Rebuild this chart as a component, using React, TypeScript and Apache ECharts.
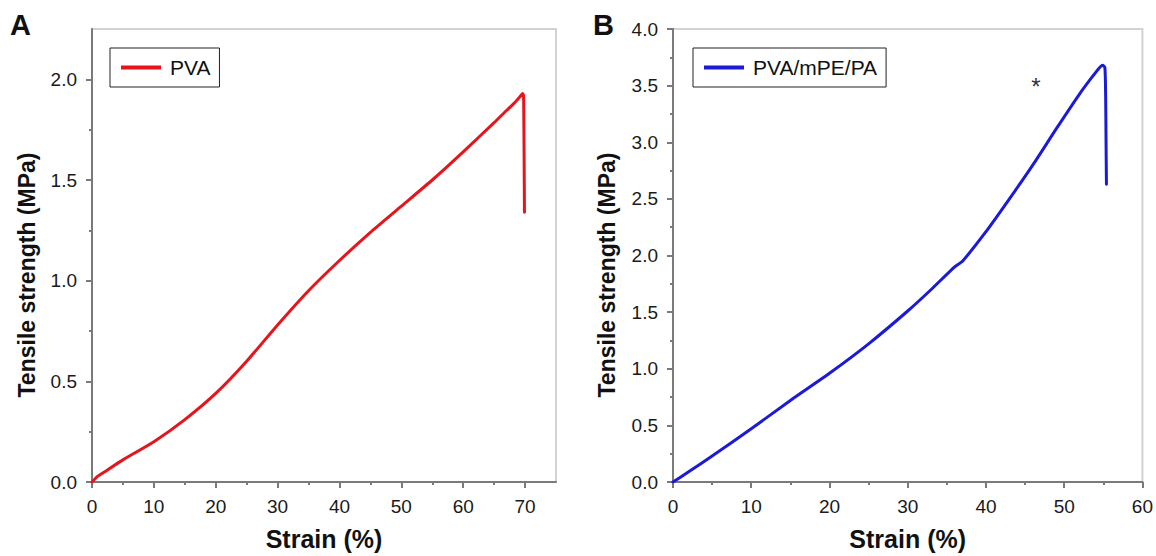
import React, { useEffect, useRef } from "react";
import * as echarts from "echarts";

// Panel A: PVA stress–strain curve
const pvaStrain = [0, 1, 2, 5, 10, 15, 20, 25, 30, 35, 40, 45, 50, 55, 60, 65, 67, 68.5, 69.2, 69.6, 69.75, 69.8, 69.85, 69.9];
const pvaStress = [0, 0.03, 0.05, 0.11, 0.2, 0.31, 0.44, 0.6, 0.78, 0.95, 1.1, 1.24, 1.37, 1.5, 1.64, 1.785, 1.845, 1.89, 1.915, 1.93, 1.92, 1.8, 1.6, 1.34];

// Panel B: PVA/mPE/PA stress–strain curve
const blendStrain = [0, 2, 5, 10, 15, 20, 25, 30, 33, 36, 37, 40, 43, 46, 49, 52, 53.5, 54.4, 54.9, 55.2, 55.3, 55.35, 55.4];
const blendStress = [0, 0.09, 0.23, 0.47, 0.72, 0.96, 1.22, 1.51, 1.7, 1.9, 1.95, 2.21, 2.5, 2.8, 3.12, 3.43, 3.57, 3.65, 3.68, 3.66, 3.4, 3.0, 2.63];

const aXMajor = [0, 10, 20, 30, 40, 50, 60, 70];
const aXMinor = [5, 15, 25, 35, 45, 55, 65];
const aYMajor = [0, 0.5, 1.0, 1.5, 2.0];
const aYMinor = [0.25, 0.75, 1.25, 1.75];
const bXMajor = [0, 10, 20, 30, 40, 50, 60];
const bXMinor = [5, 15, 25, 35, 45, 55];
const bYMajor = [0, 0.5, 1.0, 1.5, 2.0, 2.5, 3.0, 3.5, 4.0];
const bYMinor = [0.25, 0.75, 1.25, 1.75, 2.25, 2.75, 3.25, 3.75];

const FONT = 'Arial, "Liberation Sans", sans-serif';
const AXIS_COLOR = "#7a7a7a";
const LABEL_COLOR = "#1a1a1a";

function majorAxis(kind: "x" | "y", grid: number, min: number, max: number, ticks: number[], decimals: number, name?: string) {
  return {
    type: "value",
    gridIndex: grid,
    position: kind === "x" ? "bottom" : "left",
    min,
    max,
    name: name ?? "",
    nameLocation: "middle",
    nameGap: 44,
    nameTextStyle: { fontFamily: FONT, fontWeight: "bold", fontSize: 25, color: "#111" },
    axisLine: { show: true, lineStyle: { color: AXIS_COLOR, width: 2 } },
    axisTick: { show: true, inside: false, length: 6, customValues: ticks, lineStyle: { color: AXIS_COLOR, width: 2 } },
    axisLabel: {
      show: true,
      customValues: ticks,
      margin: 15,
      fontFamily: FONT,
      fontSize: 19,
      color: LABEL_COLOR,
      formatter: (v: number) => v.toFixed(decimals),
    },
    splitLine: { show: false },
  };
}

function minorAxis(kind: "x" | "y", grid: number, min: number, max: number, ticks: number[]) {
  return {
    type: "value",
    gridIndex: grid,
    position: kind === "x" ? "bottom" : "left",
    min,
    max,
    axisLine: { show: false },
    axisTick: { show: true, inside: false, length: 3, customValues: ticks, lineStyle: { color: AXIS_COLOR, width: 2 } },
    axisLabel: { show: false },
    splitLine: { show: false },
  };
}

export default function App() {
  const ref = useRef<HTMLDivElement>(null);
  useEffect(() => {
    if (!ref.current) return;
    const chart = echarts.init(ref.current, undefined, { renderer: "svg" });
    const pvaData = pvaStrain.map((x, i) => [x, pvaStress[i]]);
    const blendData = blendStrain.map((x, i) => [x, blendStress[i]]);
    const legendBase = {
      orient: "horizontal",
      top: 48,
      borderColor: "#222",
      borderWidth: 1,
      padding: [9, 9, 9, 11],
      itemWidth: 40,
      itemHeight: 4,
      itemGap: 10,
      icon: "rect",
      textStyle: { fontFamily: FONT, fontSize: 21, color: "#111", lineHeight: 21, padding: [0, 0, 0, 4] },
    };
    chart.setOption({
      animation: false,
      backgroundColor: "#ffffff",
      grid: [
        { left: 92, top: 29, width: 464, height: 455, show: true, borderColor: "#d2d2d2", borderWidth: 2, backgroundColor: "transparent" },
        { left: 673, top: 29, width: 470, height: 455, show: true, borderColor: "#d2d2d2", borderWidth: 2, backgroundColor: "transparent" },
      ],
      xAxis: [
        majorAxis("x", 0, 0, 75, aXMajor, 0, "Strain (%)"),
        minorAxis("x", 0, 0, 75, aXMinor),
        majorAxis("x", 1, 0, 60, bXMajor, 0, "Strain (%)"),
        minorAxis("x", 1, 0, 60, bXMinor),
      ],
      yAxis: [
        majorAxis("y", 0, 0, 2.25, aYMajor, 1),
        minorAxis("y", 0, 0, 2.25, aYMinor),
        majorAxis("y", 1, 0, 4, bYMajor, 1),
        minorAxis("y", 1, 0, 4, bYMinor),
      ],
      legend: [
        { ...legendBase, left: 110, data: ["PVA"] },
        { ...legendBase, left: 693, data: ["PVA/mPE/PA"] },
      ],
      series: [
        {
          name: "PVA",
          type: "line",
          xAxisIndex: 0,
          yAxisIndex: 0,
          data: pvaData,
          showSymbol: false,
          symbol: "none",
          smooth: 0.2,
          color: "#e6141b",
          lineStyle: { width: 3, color: "#e6141b", join: "round", cap: "round" },
        },
        {
          name: "PVA/mPE/PA",
          type: "line",
          xAxisIndex: 2,
          yAxisIndex: 2,
          data: blendData,
          showSymbol: false,
          symbol: "none",
          smooth: 0.2,
          color: "#1a1ad8",
          lineStyle: { width: 3, color: "#1a1ad8", join: "round", cap: "round" },
        },
      ],
      graphic: [
        { type: "text", left: 10, top: 10, style: { text: "A", fontFamily: FONT, fontWeight: "bold", fontSize: 29, fill: "#111" } },
        { type: "text", left: 593, top: 10, style: { text: "B", fontFamily: FONT, fontWeight: "bold", fontSize: 29, fill: "#111" } },
        {
          type: "text",
          x: 27,
          y: 275,
          rotation: Math.PI / 2,
          style: { text: "Tensile strength (MPa)", fontFamily: FONT, fontWeight: "bold", fontSize: 23, fill: "#111", align: "center", verticalAlign: "middle" },
        },
        {
          type: "text",
          x: 607,
          y: 275,
          rotation: Math.PI / 2,
          style: { text: "Tensile strength (MPa)", fontFamily: FONT, fontWeight: "bold", fontSize: 23, fill: "#111", align: "center", verticalAlign: "middle" },
        },
        { type: "text", x: 1036, y: 86, style: { text: "*", fontFamily: FONT, fontSize: 24, fill: "#333", align: "center", verticalAlign: "middle" } },
      ],
    });
    return () => chart.dispose();
  }, []);
  return <div ref={ref} style={{ position: "fixed", left: 0, top: 0, width: 1156, height: 556 }} />;
}
